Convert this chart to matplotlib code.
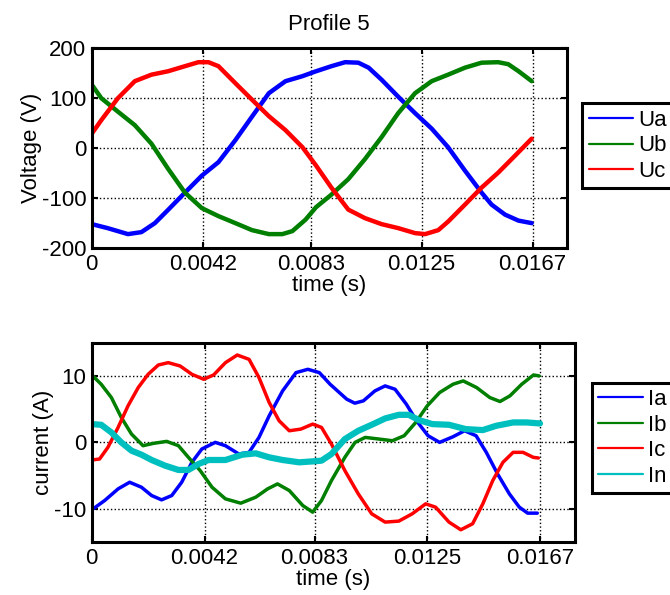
import matplotlib
matplotlib.use("Agg")
import matplotlib.pyplot as plt
import numpy as np

plt.rcParams['font.family'] = ['Liberation Sans', 'DejaVu Sans']
plt.rcParams['axes.unicode_minus'] = False
plt.rcParams['lines.solid_joinstyle'] = 'round'
plt.rcParams['lines.solid_capstyle'] = 'round'

# --- voltage (time in ms, volts) ---
ua_t = [0, 0.6, 1.37, 1.88, 2.39, 2.9, 3.53, 4.17, 4.8, 5.44, 6.07, 6.71, 7.34, 7.98, 8.45, 9.08,
        9.6, 10.1, 10.49, 10.98, 11.61, 12.25, 12.88, 13.5, 14.14, 14.77, 15.15, 15.66, 16.17, 16.67]
ua_v = [-152, -160, -172, -168, -150, -123, -89, -55, -28, 16, 63, 110, 134, 144, 153, 164,
        172, 171, 161, 137, 103, 70, 39, 2, -45, -89, -113, -133, -145, -150]

ub_t = [0, 0.36, 0.99, 1.63, 2.26, 2.9, 3.53, 4.17, 4.8, 5.44, 6.07, 6.71, 7.22, 7.6, 8.1, 8.5,
        9.08, 9.72, 10.35, 10.98, 11.61, 12.25, 12.88, 13.5, 14.14, 14.77, 15.4, 15.78, 16.17, 16.67]
ub_v = [127, 100, 73, 46, 9, -42, -89, -120, -136, -150, -164, -172, -172, -166, -143, -118,
        -93, -62, -22, 22, 70, 110, 134, 147, 161, 171, 172, 168, 154, 134]

uc_t = [0, 0.36, 0.99, 1.63, 2.26, 2.9, 3.53, 4.04, 4.42, 4.8, 5.44, 6.07, 6.71, 7.34, 7.98, 8.5,
        9.08, 9.72, 10.35, 10.98, 11.61, 12.25, 12.63, 13.13, 13.5, 14.14, 14.77, 15.4, 16.04, 16.67]
uc_v = [29, 56, 100, 134, 147, 154, 164, 172, 172, 164, 130, 97, 64, 36, 2, -35,
        -79, -123, -140, -152, -160, -170, -172, -164, -147, -113, -79, -49, -15, 19]

# --- current (time in ms, amperes) ---
ia_t = [0, 0.48, 0.98, 1.41, 1.85, 2.23, 2.6, 2.98, 3.35, 3.73, 4.1, 4.6, 4.98, 5.48, 5.86, 6.23,
        6.61, 7.11, 7.61, 8.05, 8.48, 8.88, 9.5, 9.8, 10.12, 10.55, 10.93, 11.3, 11.72, 12.1, 12.53,
        12.96, 13.46, 13.89, 14.32, 14.7, 15.12, 15.56, 15.93, 16.24, 16.6]
ia_v = [-10.15, -8.75, -7.0, -6.0, -6.75, -8.0, -8.65, -8.0, -6.0, -3.0, -1.0, 0, -0.5, -1.75, -1.5, 0.75,
        4.0, 7.75, 10.5, 11.0, 10.5, 8.75, 6.5, 5.9, 6.25, 7.75, 8.5, 8.0, 5.75, 3.25, 1.0,
        0, 0.85, 1.75, 1.0, -1.5, -4.75, -7.75, -9.75, -10.65, -10.65]

ib_t = [0, 0.35, 0.73, 1.1, 1.48, 1.91, 2.29, 2.79, 3.23, 3.6, 4.04, 4.48, 4.98, 5.55, 6.11, 6.55,
        6.92, 7.36, 7.86, 8.23, 8.56, 8.93, 9.43, 9.81, 10.19, 10.7, 11.2, 11.64, 12.07, 12.5, 12.96,
        13.46, 13.84, 14.34, 14.83, 15.21, 15.58, 16.02, 16.46, 16.67]
ib_v = [10.15, 8.75, 6.75, 3.75, 1.25, -0.5, -0.15, 0.15, -0.5, -2.25, -4.25, -6.75, -8.5, -9.15, -8.25, -7.0,
        -6.25, -7.25, -9.5, -10.5, -8.75, -5.75, -2.25, 0, 0.75, 0.5, 0.25, 1.0, 3.0, 5.5, 7.5,
        8.75, 9.25, 8.25, 6.75, 6.15, 7.0, 8.75, 10.15, 10.0]

ic_t = [0, 0.29, 0.6, 0.98, 1.35, 1.73, 2.1, 2.48, 2.85, 3.29, 3.73, 4.17, 4.54, 4.98, 5.42, 5.86,
        6.23, 6.61, 6.98, 7.36, 7.79, 8.23, 8.56, 8.93, 9.43, 9.93, 10.43, 10.93, 11.44, 11.94, 12.44,
        12.81, 13.31, 13.75, 14.19, 14.57, 14.94, 15.32, 15.7, 16.07, 16.45, 16.64]
ic_v = [-2.65, -2.5, -0.75, 2.25, 5.5, 8.25, 10.25, 11.65, 12.0, 11.5, 10.25, 9.5, 10.15, 12.0, 13.15, 12.5,
        9.75, 6.0, 3.25, 1.75, 2.0, 2.75, 2.25, -0.25, -4.25, -7.75, -10.75, -12.0, -11.85, -10.75, -9.25,
        -9.75, -12.0, -13.15, -12.25, -9.25, -5.75, -3.0, -1.5, -1.5, -2.25, -2.35]

in_t = [0, 0.35, 0.73, 1.1, 1.48, 1.85, 2.23, 2.73, 3.23, 3.6, 3.98, 4.35, 4.98, 5.61, 6.11, 6.61,
        7.11, 7.73, 8.26, 8.56, 8.93, 9.43, 9.93, 10.43, 10.93, 11.44, 11.81, 12.19, 12.69, 13.31, 13.93,
        14.57, 15.07, 15.7, 16.2, 16.7]
in_v = [2.75, 2.65, 1.5, 0, -1.25, -1.85, -2.65, -3.5, -4.15, -4.15, -3.25, -2.65, -2.65, -1.85, -1.65, -2.25,
        -2.65, -3.0, -2.85, -2.75, -1.75, 0.5, 1.75, 2.65, 3.6, 4.15, 4.15, 3.35, 2.75, 2.65, 2.0,
        1.85, 2.5, 3.0, 3.0, 2.85]

xticks = [0, 0.0042, 0.0083, 0.0125, 0.0167]
xtick_labels = ['0', '0.0042', '0.0083', '0.0125', '0.0167']


def ms(t):
    return np.array(t) / 1000.0


def style_axes(ax):
    ax.set_xlim(0, 0.018)
    ax.set_xticks(xticks)
    ax.set_xticklabels(xtick_labels)
    ax.grid(True, color='black', linestyle=':', linewidth=1.0)
    ax.tick_params(direction='in', length=4, width=1.5, labelsize=16,
                   top=True, right=True, pad=4)
    for s in ax.spines.values():
        s.set_linewidth(2.2)
    ax.set_xlabel('time (s)', fontsize=16, labelpad=0)


fig = plt.figure(figsize=(6.7, 5.95), dpi=100)

ax1 = fig.add_axes([0.137, 0.583, 0.709, 0.336])
ax1.plot(ms(ua_t), ua_v, color='#0000ff', lw=3.2, label='Ua')
ax1.plot(ms(ub_t), ub_v, color='#007f00', lw=3.2, label='Ub')
ax1.plot(ms(uc_t), uc_v, color='#ff0000', lw=3.2, label='Uc')
ax1.set_ylim(-200, 200)
ax1.set_yticks([-200, -100, 0, 100, 200])
style_axes(ax1)
ax1.set_ylabel('Voltage (V)', fontsize=16, labelpad=0)
ax1.set_title('Profile 5', fontsize=16, pad=13)
leg1 = ax1.legend(loc='upper left', bbox_to_anchor=(1.032, 0.725), fontsize=16,
                  handlelength=2.0, handletextpad=0.25, labelspacing=0.2,
                  borderpad=0.3, borderaxespad=0, fancybox=False, framealpha=1,
                  edgecolor='black')
leg1.get_frame().set_linewidth(2.2)
for h in leg1.get_lines():
    h.set_linewidth(1.6)

ax2 = fig.add_axes([0.137, 0.089, 0.721, 0.335])
ax2.plot(ms(ia_t), ia_v, color='#0000ff', lw=2.5, label='Ia')
ax2.plot(ms(ib_t), ib_v, color='#007f00', lw=2.5, label='Ib')
ax2.plot(ms(ic_t), ic_v, color='#ff0000', lw=2.5, label='Ic')
ax2.plot(ms(in_t), in_v, color='#00bfbf', lw=4.5, label='In')
ax2.set_ylim(-15, 15)
ax2.set_yticks([-10, 0, 10])
style_axes(ax2)
ax2.set_ylabel('current (A)', fontsize=16, labelpad=0)
leg2 = ax2.legend(loc='upper left', bbox_to_anchor=(1.035, 0.80), fontsize=16,
                  handlelength=2.0, handletextpad=0.25, labelspacing=0.2,
                  borderpad=0.3, borderaxespad=0, fancybox=False, framealpha=1,
                  edgecolor='black')
leg2.get_frame().set_linewidth(2.2)
for h in leg2.get_lines():
    h.set_linewidth(1.6)

fig.savefig('out.png', dpi=100)
